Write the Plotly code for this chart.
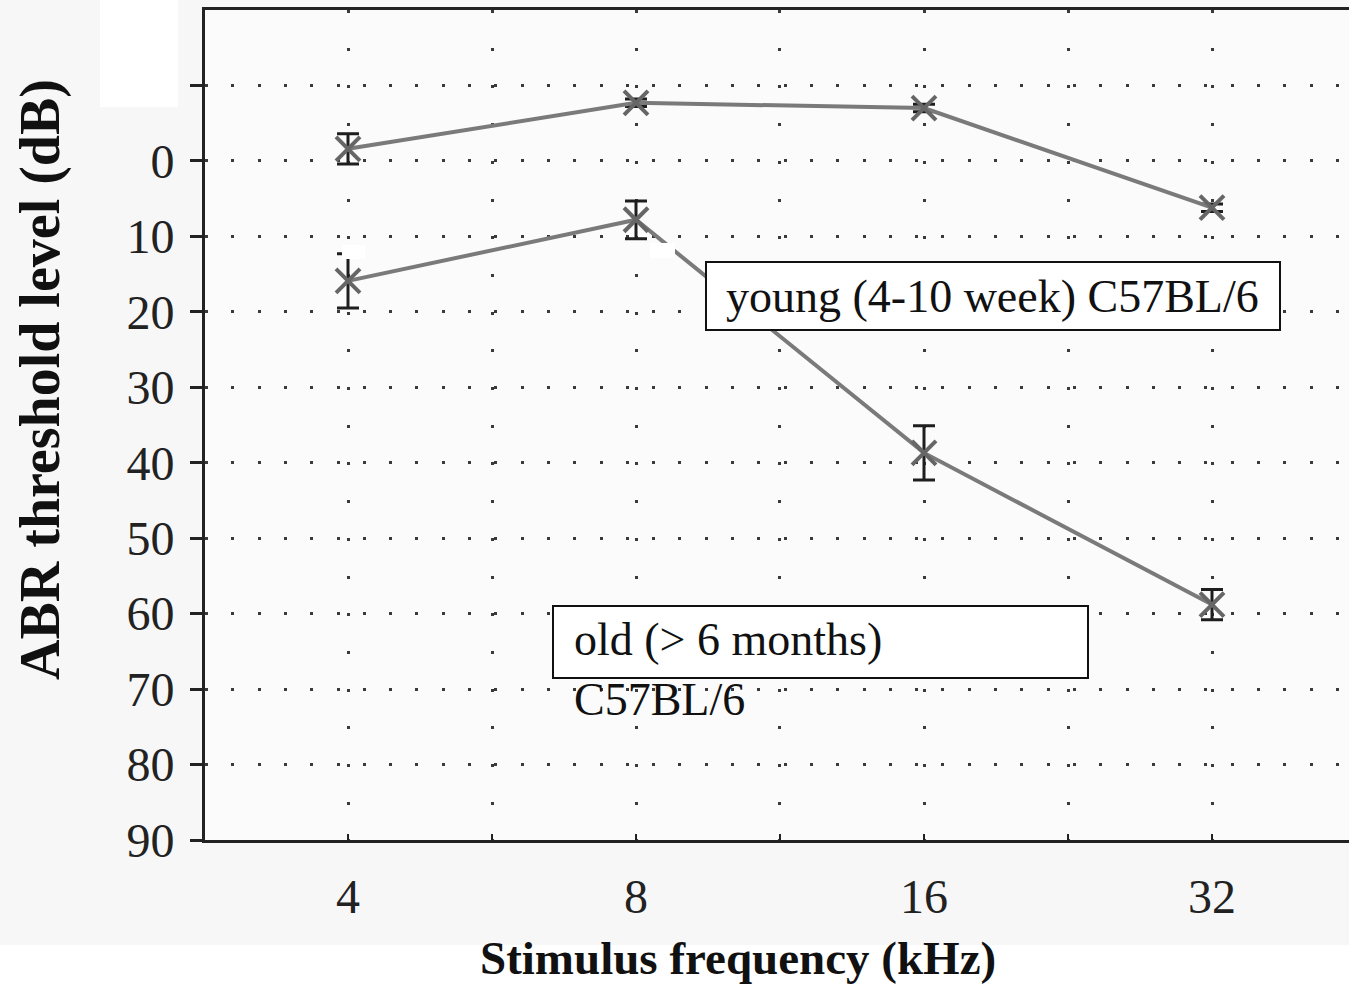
import math
import plotly.graph_objects as go

# ---- data ----
freq_khz = [4, 8, 16, 32]
young_db = [-1.6, -7.7, -7.0, 6.2]
young_err = [2.0, 0.5, 0.5, 0.5]
old_db = [15.9, 7.8, 38.7, 58.8]
old_err = [3.6, 2.5, 3.6, 2.0]

x_tick_vals = [4, 5.657, 8, 11.31, 16, 22.63, 32]
x_tick_text = ["4", "", "8", "", "16", "", "32"]
y_tick_vals = [-10, 0, 10, 20, 30, 40, 50, 60, 70, 80, 90]
y_tick_text = ["", "0", "10", "20", "30", "40", "50", "60", "70", "80", "90"]

SERIF = "Liberation Serif"
LINE_C = "#7a7a7a"
MARK_C = "#666666"
ERR_C = "#1e1e1e"

fig = go.Figure()

for ys, es, name in [(young_db, young_err, "young"), (old_db, old_err, "old")]:
    fig.add_trace(go.Scatter(
        x=freq_khz, y=ys, name=name, mode="lines+markers",
        line=dict(color=LINE_C, width=4),
        marker=dict(symbol="x-thin", size=24, line=dict(color=MARK_C, width=4), color=MARK_C),
        error_y=dict(type="data", array=es, visible=True, color=ERR_C, thickness=3, width=11),
        showlegend=False,
    ))

# layout geometry helpers (pixels -> paper)
L, T, W, H = 205, 10, 1144, 830
def px(xp):
    return (xp - L) / W
def py(yp):
    return (T + H - yp) / H

shapes = [
    # background tones
    dict(type="rect", xref="paper", yref="paper", x0=px(0), x1=px(1349), y0=py(945), y1=py(0),
         fillcolor="#f7f7f7", line=dict(width=0), layer="below"),
    dict(type="rect", xref="paper", yref="paper", x0=0, x1=1, y0=0, y1=1,
         fillcolor="#fbfbfb", line=dict(width=0), layer="below"),
    dict(type="rect", xref="paper", yref="paper", x0=px(100), x1=px(178), y0=py(107), y1=py(0),
         fillcolor="#ffffff", line=dict(width=0), layer="below"),
    # white-out patches
    dict(type="rect", xref="paper", yref="paper", x0=px(342), x1=px(365), y0=py(259), y1=py(245),
         fillcolor="#ffffff", line=dict(width=0), layer="above"),
    dict(type="rect", xref="paper", yref="paper", x0=px(650), x1=px(675), y0=py(258), y1=py(243),
         fillcolor="#ffffff", line=dict(width=0), layer="above"),
    # label boxes
    dict(type="rect", xref="paper", yref="paper", x0=px(706), x1=px(1280), y0=py(330), y1=py(262),
         fillcolor="#ffffff", line=dict(color="#111111", width=2), layer="above"),
    dict(type="rect", xref="paper", yref="paper", x0=px(553), x1=px(1088), y0=py(678), y1=py(606),
         fillcolor="#ffffff", line=dict(color="#111111", width=2), layer="above"),
]

annotations = [
    dict(text="young (4-10 week) C57BL/6", xref="paper", yref="paper", x=px(724), y=py(296),
         xanchor="left", yanchor="middle", showarrow=False,
         font=dict(family=SERIF, size=46, color="#111111")),
    dict(text="old (> 6 months)<br>C57BL/6", xref="paper", yref="paper", x=px(572), y=py(612),
         xanchor="left", yanchor="top", align="left", showarrow=False,
         font=dict(family=SERIF, size=46, color="#111111")),
    dict(text="<b>ABR threshold level (dB)</b>", xref="paper", yref="paper", x=px(40), y=py(380),
         xanchor="center", yanchor="middle", textangle=-90, showarrow=False,
         font=dict(family=SERIF, size=56, color="#111111")),
    dict(text="<b>Stimulus frequency (kHz)</b>", xref="paper", yref="paper", x=px(738), y=py(958),
         xanchor="center", yanchor="middle", showarrow=False,
         font=dict(family=SERIF, size=47, color="#111111")),
]

xr = [math.log10(4) - (348 - 205) / 288 * math.log10(2),
      math.log10(4) + (1349 - 348) / 288 * math.log10(2)]

fig.update_layout(
    width=1349, height=990,
    margin=dict(l=L, r=0, t=T, b=990 - T - H),
    paper_bgcolor="#ffffff", plot_bgcolor="#fbfbfb",
    shapes=shapes, annotations=annotations,
    xaxis=dict(type="log", range=xr, tickvals=x_tick_vals, ticktext=x_tick_text,
               ticks="inside", ticklen=6, tickwidth=2, tickcolor="#222222",
               showline=True, linewidth=3, linecolor="#222222", mirror=True,
               showgrid=True, gridcolor="#3a3a3a", gridwidth=3, griddash="3px,34.7px",
               zeroline=False, ticklabelstandoff=12,
               tickfont=dict(family=SERIF, size=48, color="#222222")),
    yaxis=dict(range=[90, -20], tickvals=y_tick_vals, ticktext=y_tick_text,
               ticks="outside", ticklen=12, tickwidth=3, tickcolor="#222222",
               showline=True, linewidth=3, linecolor="#222222", mirror=False,
               showgrid=True, gridcolor="#3a3a3a", gridwidth=3, griddash="3px,23.3px",
               zeroline=False, ticklabelstandoff=6,
               tickfont=dict(family=SERIF, size=48, color="#222222")),
)

fig.write_html("out.html")
